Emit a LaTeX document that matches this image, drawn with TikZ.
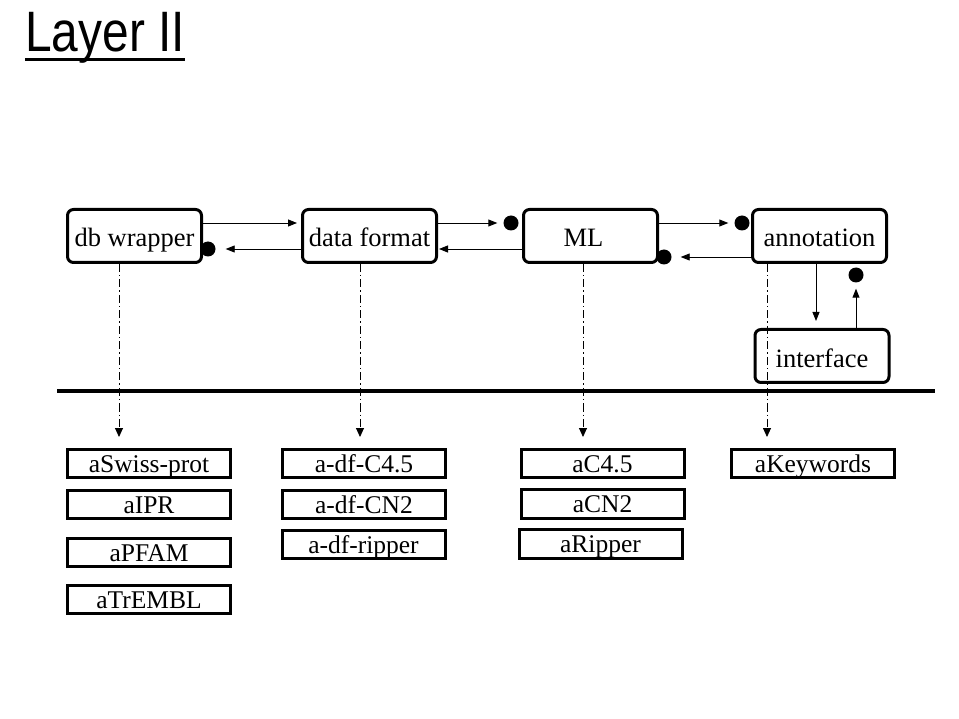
\documentclass[tikz,border=0pt]{standalone}
\usepackage{fontspec}
\setmainfont{Liberation Serif}
\newfontfamily\titrefont[FakeStretch=0.84]{Liberation Sans}
\usepackage{tikz}
\usetikzlibrary{arrows.meta}

\begin{document}
\begin{tikzpicture}[x=1pt,y=-1pt,
		boite/.style={draw,line width=3pt,rounded corners=6pt,minimum width=134pt,minimum height=53pt,inner sep=0pt,text height=22pt,text depth=0pt,font=\fontsize{26.5}{30}\selectfont},
		classe/.style={draw,line width=3pt,minimum width=163pt,minimum height=28.5pt,inner sep=0pt,text height=17pt,text depth=0pt,font=\fontsize{25.5}{28}\selectfont},
		point/.style={circle,inner sep=0pt,minimum size=15pt,fill=black},
		fleche/.style={line width=0.9pt,-{Triangle[length=9pt,width=7pt]}},
		lien/.style={line width=0.9pt,dash pattern=on 8pt off 3pt on 1.5pt off 3pt,-{Triangle[length=9pt,width=8pt]}}]
			\useasboundingbox (0,0) rectangle (959,719);
			\begin{scope}
				\node[anchor=base west,inner sep=0pt,font=\titrefont\fontsize{57}{60}\selectfont] (titre) at (25,52) {Layer II};
				\draw[line width=3pt] ([yshift=-8pt]titre.base west) -- ([yshift=-8pt]titre.base east);
			\end{scope}
			\begin{scope}
				\node[boite] (db) at (134.5,236) {db wrapper};
				\node[boite] (df) at (369.5,236) {data format};
				\node[boite] (ml) at (590.5,236) {\hspace*{-14pt}ML};
				\node[boite] (ann) at (819.5,236) {annotation};
				\node[boite] (iface) at (822,356) {interface};
				\foreach \Nom/\X/\Y in {p1/208/249, p2/511/223, p3/742/223, p4/664/257, p5/856/275}
					\node[point] (\Nom) at (\X,\Y) {};
				\draw[fleche,shorten >=4pt] ([yshift=13pt]db.east) -- ([yshift=13pt]df.west);
				\draw[fleche,shorten >=10pt] ([yshift=-13pt]df.west) -- (p1);
				\draw[fleche,shorten >=6pt] ([yshift=13pt]df.east) -- (p2);
				\draw[fleche,shorten >=1pt] ([yshift=-13pt]ml.west) -- ([yshift=-13pt]df.east);
				\draw[fleche,shorten >=6pt] ([yshift=13pt]ml.east) -- (p3);
				\draw[fleche,shorten >=9pt] ([yshift=-21pt]ann.west) -- (p4);
				\draw[fleche,shorten >=7pt] ([xshift=-3.5pt]ann.south) -- ([xshift=-6pt]iface.north);
				\draw[fleche,shorten >=6pt] ([xshift=34pt]iface.north) -- (p5);
			\end{scope}
			\draw[line width=4pt] (57,391) -- (935,391);
			\foreach \Nom/\X in {db/119, df/360, ml/583, ann/767} {
				\coordinate (\Nom-bas) at (\X,437);
				\draw[lien] (\Nom-bas |- \Nom.south) -- (\Nom-bas);
			}
			\begin{scope}
				\foreach \Nom/\X/\Y/\Texte in {
					sw/149/463.5/aSwiss-prot, ipr/149/504.5/aIPR, pfam/149/552.5/aPFAM, trembl/149/599.5/aTrEMBL,
					dfc/364/463.5/a-df-C4.5, dfcn/364/504.5/a-df-CN2, dfrip/363.5/544.5/a-df-ripper,
					c/602.5/463.5/aC4.5, cn/602.5/504/aCN2, rip/600.5/544/aRipper,
					kw/813/463.5/aKeywords%
				}
					\node[classe] (\Nom) at (\X,\Y) {\Texte};
			\end{scope}
		\end{tikzpicture}
\end{document}
